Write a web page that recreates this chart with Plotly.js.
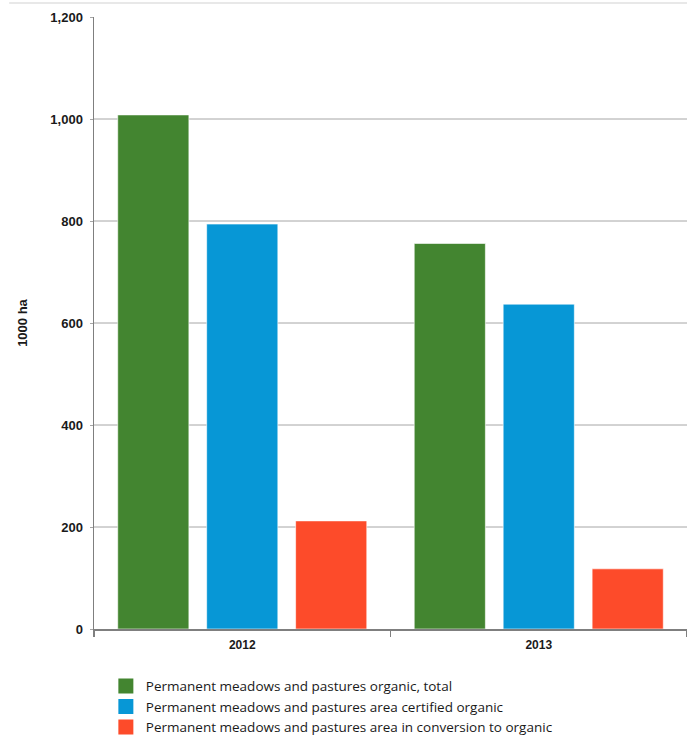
<!DOCTYPE html>
<html>
<head>
<meta charset="utf-8">
<script src="https://cdn.plot.ly/plotly-3.0.1.min.js"></script>
<style>html,body{margin:0;padding:0;background:#fff;}#chart{width:687px;height:737px;}</style>
</head>
<body>
<div id="chart"></div>
<script>
const years = ['2012', '2013'];
const seriesNames = [
  'Permanent meadows and pastures organic, total',
  'Permanent meadows and pastures area certified organic',
  'Permanent meadows and pastures area in conversion to organic'
];
const totalOrganic = [1008, 756];
const certifiedOrganic = [794, 637];
const inConversion = [212, 118];
const seriesColors = ['#438530', '#0797d6', '#fd4b2a'];
const yTicks = [0, 200, 400, 600, 800, 1000, 1200];
const gridValues = [200, 400, 600, 800, 1000];

const seriesValues = [totalOrganic, certifiedOrganic, inConversion];
const traces = seriesValues.map((vals, i) => ({
  type: 'bar',
  x: years,
  y: vals,
  name: seriesNames[i],
  legendgroup: 'g' + i,
  showlegend: false,
  marker: {color: seriesColors[i], line: {color: 'rgba(255,255,255,0.6)', width: 1}},
  hoverinfo: 'x+y+name'
}));
// legend-only entries with larger square swatches
seriesNames.forEach((name, i) => {
  traces.push({
    type: 'scatter', mode: 'markers', x: [null], y: [null],
    name: name, legendgroup: 'g' + i, showlegend: true,
    marker: {symbol: 'square', size: 15, color: seriesColors[i]},
    hoverinfo: 'skip'
  });
});

const shapes = gridValues.map(v => ({
  type: 'line', xref: 'paper', yref: 'y', x0: 0, x1: 1, y0: v, y1: v,
  line: {color: '#a6a6a6', width: 1}, layer: 'below'
}));
shapes.push({
  type: 'line', xref: 'paper', yref: 'paper', x0: -0.143, x1: 1, y0: 1.023, y1: 1.023,
  line: {color: '#e8e8e8', width: 2}
});

const layout = {
  width: 687, height: 737,
  margin: {l: 94, r: 0, t: 17, b: 108},
  paper_bgcolor: '#ffffff', plot_bgcolor: '#ffffff',
  barmode: 'group', bargap: 0.1, bargroupgap: 0.2,
  separators: '.,',
  font: {family: 'Liberation Sans, Arial, sans-serif', color: '#1a1a1a'},
  showlegend: true,
  legend: {
    orientation: 'v', x: 0.02, xanchor: 'left',
    yref: 'container', y: 0.09, yanchor: 'top',
    font: {family: 'Open Sans, sans-serif', size: 13.5, color: '#1a1a1a'},
    traceorder: 'normal', itemwidth: 30, tracegroupgap: 0
  },
  xaxis: {
    type: 'category', showgrid: false, showline: true, linecolor: '#7f7f7f', linewidth: 1.5,
    ticks: 'outside', tickson: 'boundaries', ticklen: 6, tickcolor: '#7f7f7f', tickwidth: 1.5,
    ticklabelstandoff: 4,
    tickfont: {family: 'Liberation Sans, Arial, sans-serif', size: 12, color: '#1a1a1a', weight: 'bold'},
    fixedrange: true
  },
  yaxis: {
    range: [0, 1200], tickvals: yTicks, tickformat: ',d',
    showgrid: false, zeroline: false, showline: true, linecolor: '#7f7f7f', linewidth: 1.5,
    ticks: 'outside', ticklen: 3, tickcolor: '#a6a6a6', ticklabelstandoff: 4,
    tickfont: {family: 'Liberation Sans, Arial, sans-serif', size: 13, color: '#1a1a1a', weight: 'bold'},
    title: {text: '1000 ha', standoff: 20, font: {family: 'Liberation Sans, Arial, sans-serif', size: 13, color: '#1a1a1a', weight: 'bold'}},
    fixedrange: true
  },
  shapes: shapes
};

Plotly.newPlot('chart', traces, layout, {displayModeBar: false, staticPlot: true});
</script>
</body>
</html>
